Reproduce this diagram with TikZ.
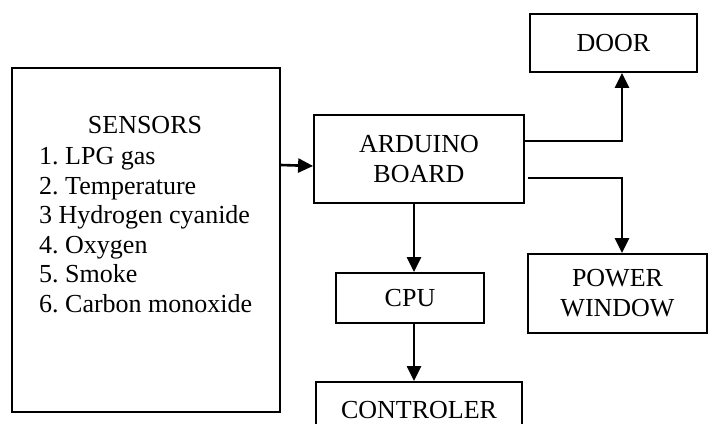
\documentclass[tikz,border=0pt]{standalone}
\usepackage{fontspec}
\setmainfont{Liberation Serif}
\usetikzlibrary{arrows.meta,calc}
\tikzset{
  blk/.style={draw, line width=1.8pt, inner sep=0pt, align=center, font=\fontsize{26}{30}\selectfont},
  arr/.style={line width=2.6pt, -{Triangle[length=15pt,width=14pt]}},
  txt/.style={inner sep=0pt, font=\fontsize{26}{29.5}\selectfont}
}
\begin{document}
\frenchspacing
\begin{tikzpicture}[x=1pt,y=-1pt]
\clip (0,0) rectangle (709,423);
\fill[white] (0,0) rectangle (709,423);
% boxes
\node[blk, minimum width=268, minimum height=344] (sensors) at (146,240) {};
\node[txt, anchor=base] (sensT) at (145,133) {SENSORS};
\node[txt, anchor=north west, align=left] (sensL) at (39,147.5)
  {1. LPG gas\\2. Temperature\\3 Hydrogen cyanide\\4. Oxygen\\5. Smoke\\6. Carbon monoxide};
\node[blk, minimum width=210, minimum height=88] (arduino) at (419,159) {ARDUINO\\BOARD};
\node[blk, minimum width=167, minimum height=58] (door) at (613.5,43) {DOOR};
\node[blk, minimum width=148, minimum height=50] (cpu) at (410,298) {CPU};
\node[blk, minimum width=179, minimum height=79] (power) at (617.5,293.5) {POWER\\WINDOW};
\node[blk, minimum width=206, inner ysep=19pt, anchor=north] (ctrl) at (419,381) {CONTROLER};
% connectors
\coordinate (c1) at (414,0);
\coordinate (c2) at (622,141);
\coordinate (c3) at (528,178);
\draw[arr] ([yshift=-6pt]sensors.east |- arduino.west) -- ([yshift=-7pt]arduino.west);
\draw[arr] (arduino.east |- c2) -- (c2) -- (c2 |- door.south);
\draw[arr] (c3) -| (c2 |- power.north);
\draw[arr] (c1 |- arduino.south) -- (c1 |- cpu.north);
\draw[arr] (c1 |- cpu.south) -- (c1 |- ctrl.north);
\end{tikzpicture}
\end{document}
